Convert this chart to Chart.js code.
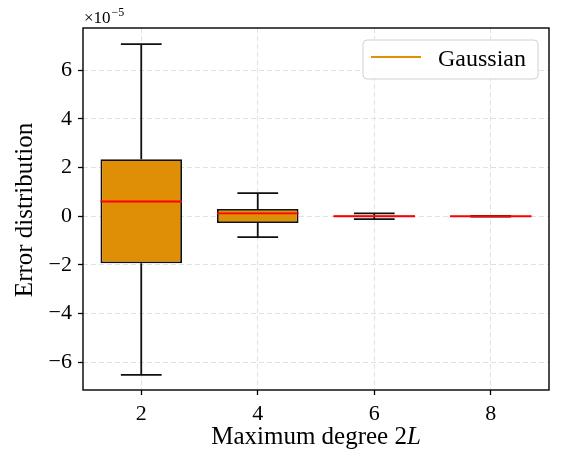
<!DOCTYPE html>
<html>
<head>
<meta charset="utf-8">
<script src="https://cdn.jsdelivr.net/npm/chart.js@4.4.1/dist/chart.umd.min.js"></script>
<style>
  html, body { margin: 0; padding: 0; background: #fff; }
  #wrap { width: 561px; height: 466px; position: relative; }
</style>
</head>
<body>
<div id="wrap"><canvas id="boxChart"></canvas></div>
<script>
// values in units of 1e-5
const degrees = [2, 4, 6, 8];
const whiskerLow = [-6.52, -0.86, -0.12, -0.015];
const quart1 = [-1.93, -0.28, -0.03, -0.005];
const medians = [0.61, 0.12, 0.0, 0.0];
const quart3 = [2.35, 0.30, 0.03, 0.005];
const whiskerHigh = [7.08, 0.95, 0.12, 0.015];
const yTickValues = [-6, -4, -2, 0, 2, 4, 6];
const legendLabel = "Gaussian";

const boxColor = "#de8f05";
const FONT = "'Liberation Serif', 'DejaVu Serif', serif";
const boxWidth = 1.4;

// whisker lines: vertical stems + caps, broken by nulls
var whiskerPts = [];
var medianPts = [];
degrees.forEach(function(d, i) {
    whiskerPts.push({x: d, y: quart3[i]}, {x: d, y: whiskerHigh[i]}, {x: d, y: null});
    whiskerPts.push({x: d, y: quart1[i]}, {x: d, y: whiskerLow[i]}, {x: d, y: null});
    whiskerPts.push({x: d - boxWidth / 4, y: whiskerHigh[i]}, {x: d + boxWidth / 4, y: whiskerHigh[i]}, {x: d, y: null});
    whiskerPts.push({x: d - boxWidth / 4, y: whiskerLow[i]}, {x: d + boxWidth / 4, y: whiskerLow[i]}, {x: d, y: null});
    medianPts.push({x: d - boxWidth / 2, y: medians[i]}, {x: d + boxWidth / 2, y: medians[i]}, {x: d, y: null});
});

const framePlugin = {
    id: 'frame',
    afterDraw(chart) {
        const ctx = chart.ctx;
        const a = chart.chartArea;
        ctx.save();
        ctx.strokeStyle = '#000';
        ctx.lineWidth = 1.4;
        ctx.strokeRect(a.left, a.top, a.right - a.left, a.bottom - a.top);

        // offset text
        ctx.fillStyle = '#000';
        ctx.textBaseline = 'alphabetic';
        ctx.textAlign = 'left';
        ctx.font = "17px " + FONT;
        ctx.fillText("\u00d710", a.left + 1, 23);
        var w = ctx.measureText("\u00d710").width;
        ctx.font = "12px " + FONT;
        ctx.fillText("\u22125", a.left + 1 + w + 1, 16);

        // x title with italic L
        ctx.font = "25px " + FONT;
        var t1 = "Maximum degree 2";
        var w1 = ctx.measureText(t1).width;
        ctx.font = "italic 25px " + FONT;
        var w2 = ctx.measureText("L").width;
        var cx = (a.left + a.right) / 2;
        var x0 = cx - (w1 + w2) / 2;
        ctx.font = "25px " + FONT;
        ctx.fillText(t1, x0, 444);
        ctx.font = "italic 25px " + FONT;
        ctx.fillText("L", x0 + w1, 444);

        // y title
        ctx.save();
        ctx.translate(32, 210);
        ctx.rotate(-Math.PI / 2);
        ctx.textAlign = 'center';
        ctx.font = "25px " + FONT;
        ctx.fillText("Error distribution", 0, 0);
        ctx.restore();

        // legend box
        var lx = 363, ly = 40, lw = 175, lh = 39;
        ctx.fillStyle = 'rgba(255,255,255,0.85)';
        ctx.strokeStyle = '#d0d0d0';
        ctx.lineWidth = 1;
        ctx.beginPath();
        ctx.roundRect(lx, ly, lw, lh, 4);
        ctx.fill();
        ctx.stroke();
        ctx.strokeStyle = boxColor;
        ctx.lineWidth = 2;
        ctx.beginPath();
        ctx.moveTo(lx + 8, ly + 17);
        ctx.lineTo(lx + 58, ly + 17);
        ctx.stroke();
        ctx.fillStyle = '#000';
        ctx.font = "24px " + FONT;
        ctx.fillText(legendLabel, lx + 75, ly + 26);
        ctx.restore();
    }
};

const gridOpts = {
    color: '#e0e0e0',
    offset: false,
    tickColor: '#000',
    tickLength: 5,
    tickWidth: 1.3,
    tickBorderDash: []
};

new Chart("boxChart", {
    data: {
        datasets: [{
            type: 'bar',
            label: legendLabel,
            data: degrees.map(function(d, i) { return {x: d, y: [quart1[i], quart3[i]]}; }),
            backgroundColor: boxColor,
            borderColor: '#111',
            borderWidth: 1.8,
            borderSkipped: false,
            barPercentage: 0.7,
            categoryPercentage: 1.0,
            order: 2
        }, {
            type: 'line',
            label: 'whiskers',
            data: whiskerPts,
            borderColor: '#111',
            borderWidth: 1.8,
            pointRadius: 0,
            spanGaps: false,
            order: 3
        }, {
            type: 'line',
            label: 'median',
            data: medianPts,
            borderColor: '#ff0000',
            borderWidth: 1.9,
            pointRadius: 0,
            spanGaps: false,
            order: 1
        }]
    },
    options: {
        responsive: true,
        maintainAspectRatio: false,
        animation: false,
        layout: {padding: {top: 28, right: 12, left: 0, bottom: 0}},
        plugins: {
            legend: {display: false},
            tooltip: {enabled: false}
        },
        scales: {
            x: {
                type: 'linear',
                min: 1,
                max: 9,
                offset: false,
                afterFit: function(s) { s.height = 76; },
                afterBuildTicks: function(s) {
                    s.ticks = degrees.map(function(d) { return {value: d}; });
                },
                ticks: {
                    color: '#000',
                    padding: 6,
                    font: {family: FONT, size: 22},
                    callback: function(v) { return String(v); }
                },
                grid: gridOpts,
                border: {display: false, dash: [5, 3]}
            },
            y: {
                min: -7.14,
                max: 7.74,
                afterFit: function(s) { s.width = 83; },
                afterBuildTicks: function(s) {
                    s.ticks = yTickValues.map(function(v) { return {value: v}; });
                },
                ticks: {
                    color: '#000',
                    padding: 6,
                    font: {family: FONT, size: 22},
                    callback: function(v) { return v < 0 ? '\u2212' + Math.abs(v) : String(v); }
                },
                grid: gridOpts,
                border: {display: false, dash: [5, 3]}
            }
        }
    },
    plugins: [framePlugin]
});
</script>
</body>
</html>
